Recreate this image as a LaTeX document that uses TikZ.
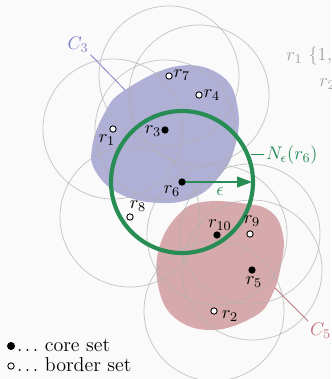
\documentclass[tikz,border=0pt]{standalone}
\usetikzlibrary{arrows.meta}
\definecolor{bgc}{RGB}{250,250,250}
\definecolor{blobblue}{RGB}{176,176,214}
\definecolor{blobpink}{RGB}{214,170,172}
\definecolor{lblblue}{RGB}{128,128,200}
\definecolor{lblpink}{RGB}{196,120,130}
\definecolor{epsgreen}{RGB}{40,140,85}
\definecolor{nbgray}{RGB}{175,175,175}
\definecolor{txtgray}{RGB}{165,165,165}
\tikzset{
  every node/.style={font=\fontsize{10.95}{13}\selectfont},
  nbcircle/.style={draw=nbgray, line width=0.45pt, draw opacity=0.7},
  corept/.style={circle, fill=black, inner sep=0pt, minimum size=4.4pt},
  borderpt/.style={circle, draw=black, fill=white, line width=0.55pt, inner sep=0pt, minimum size=3.8pt},
  ptlabel/.style={inner sep=0pt},
  legendtext/.style={anchor=west, inner sep=1pt, font=\fontsize{12}{14}\selectfont},
}
\begin{document}
\begin{tikzpicture}[x=0.6pt,y=-0.6pt]
\useasboundingbox (0,0) rectangle (331,379);
\fill[bgc] (0,0) rectangle (331,379);
% blobs
\fill[blobblue] plot[smooth cycle, tension=0.7] coordinates {(125,90) (178,66) (222,76) (238,110) (234,150) (218,178) (195,197) (160,203) (120,194) (96,172) (92,148) (104,114)};
\fill[blobpink] plot[smooth cycle, tension=0.7] coordinates {(203,202) (240,203) (270,211) (283,235) (281,265) (272,295) (255,316) (213,330) (175,318) (158,285) (160,245) (180,213)};
% points
\coordinate (p7) at (169,76);
\coordinate (p4) at (199,95);
\coordinate (p1) at (113,129);
\coordinate (p3) at (165,130);
\coordinate (p6) at (182,182);
\coordinate (p8) at (130,217);
\coordinate (p10) at (217,235);
\coordinate (p9) at (250,234);
\coordinate (p5) at (252,270);
\coordinate (p2) at (214,311);
% neighbourhoods
\foreach \p in {p7,p4,p1,p3,p6,p8,p10,p9,p5,p2}
  \draw[nbcircle] (\p) circle[radius=70];
% green neighbourhood
\draw[epsgreen, line width=2.5pt] (p6) circle[radius=71];
\coordinate (eend) at (252,182);
\draw[epsgreen, line width=0.9pt, -{Triangle[length=9pt,width=6.5pt]}] (p6) -- (eend);
\node[epsgreen, ptlabel] (eps) at (220,192) {$\epsilon$};
\coordinate (nstart) at (251,155);
\node[epsgreen, anchor=west, inner sep=1pt] (nlab) at (264,155) {$N_\epsilon(r_6)$};
\draw[epsgreen, line width=0.6pt] (nstart) -- (nlab.west);
% point markers
\node[borderpt] (r7) at (p7) {};
\node[borderpt] (r4) at (p4) {};
\node[borderpt] (r1) at (p1) {};
\node[corept] (r3) at (p3) {};
\node[corept] (r6) at (p6) {};
\node[borderpt] (r8) at (p8) {};
\node[corept] (r10) at (p10) {};
\node[borderpt] (r9) at (p9) {};
\node[corept] (r5) at (p5) {};
\node[borderpt] (r2) at (p2) {};
% labels
\node[ptlabel] (l7) at (182,75) {$r_7$};
\node[ptlabel] (l4) at (212,95) {$r_4$};
\node[ptlabel] (l1) at (107,140) {$r_1$};
\node[ptlabel] (l3) at (153,131) {$r_3$};
\node[ptlabel] (l6) at (172,191) {$r_6$};
\node[ptlabel] (l8) at (138,206) {$r_8$};
\node[ptlabel] (l10) at (220,225) {$r_{10}$};
\node[ptlabel] (l9) at (252,221) {$r_9$};
\node[ptlabel] (l5) at (254,282) {$r_5$};
\node[ptlabel] (l2) at (230,316) {$r_2$};
% cluster labels
\node[lblblue, inner sep=1pt] (c3) at (78,45) {$C_3$};
\coordinate (c3end) at (125,90);
\draw[lblblue, line width=0.5pt] (c3.south east) -- (c3end);
\node[lblpink, inner sep=1pt, anchor=north west] (c5) at (308,321) {$C_5$};
\coordinate (c5end) at (275,288);
\draw[lblpink, line width=0.5pt] (c5.north west) -- (c5end);
% cut-off text top right
\node[txtgray, anchor=base west, inner sep=0pt] (t1) at (286,61) {$r_1\ \{1,$};
\node[txtgray, anchor=base west, inner sep=0pt] (t2) at (319,87) {$r_2$};
% legend
\node[corept, minimum size=4.8pt] (lgc) at (11,346) {};
\node[legendtext] (lgct) at (15,345) {.\kern1.5pt.\kern1.5pt.\ core set};
\node[borderpt] (lgb) at (11,366) {};
\node[legendtext] (lgbt) at (15,365) {.\kern1.5pt.\kern1.5pt.\ border set};
\end{tikzpicture}
\end{document}
